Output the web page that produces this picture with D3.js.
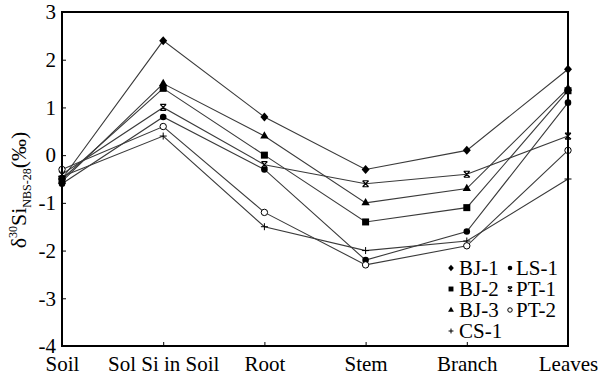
<!DOCTYPE html>
<html>
<head>
<meta charset="utf-8">
<script src="https://cdn.jsdelivr.net/npm/d3@7"></script>
<style>
  html, body { margin: 0; padding: 0; background: #fff; }
</style>
</head>
<body>
<svg id="chart" width="601" height="380"></svg>
<script>
// Sampling positions along the soil–plant pathway
const categories = ["Soil", "Sol Si in Soil", "Root", "Stem", "Branch", "Leaves"];
const yTicks = [-4, -3, -2, -1, 0, 1, 2, 3];

// δ30Si values (‰) per sample site
const seriesNames = ["BJ-1", "BJ-2", "BJ-3", "CS-1", "LS-1", "PT-1", "PT-2"];
const bj1 = [-0.5, 2.4, 0.8, -0.3, 0.1, 1.8];
const bj2 = [-0.5, 1.4, 0.0, -1.4, -1.1, 1.35];
const bj3 = [-0.55, 1.5, 0.4, -1.0, -0.7, 1.4];
const cs1 = [-0.45, 0.4, -1.5, -2.0, -1.8, -0.5];
const ls1 = [-0.6, 0.8, -0.3, -2.2, -1.6, 1.1];
const pt1 = [-0.4, 1.0, -0.2, -0.6, -0.4, 0.4];
const pt2 = [-0.3, 0.6, -1.2, -2.3, -1.9, 0.1];
const seriesMarkers = ["diamond", "square", "triangle", "plus", "dot", "cross", "ring"];

const seriesValues = [bj1, bj2, bj3, cs1, ls1, pt1, pt2];
const series = seriesNames.map((name, i) => ({ name, marker: seriesMarkers[i], values: seriesValues[i] }));

const FONT = "Liberation Serif";
const svg = d3.select("#chart");
const m = { left: 62, right: 33, top: 12, bottom: 34 };
const W = 601, H = 380;
const x = d3.scalePoint().domain(categories).range([m.left, W - m.right]).padding(0);
const y = d3.scaleLinear().domain([-4, 3]).range([H - m.bottom, m.top]);

const g = svg.append("g");

// Connecting lines
const line = d3.line().x((d, i) => x(categories[i])).y(d => y(d));
g.selectAll("path.series").data(series).join("path")
  .attr("class", "series")
  .attr("d", d => line(d.values))
  .attr("fill", "none")
  .attr("stroke", "#3a3a3a")
  .attr("stroke-width", 1.1);

// Marker shapes
function drawMarker(sel, type, s) {
  switch (type) {
    case "diamond":
      sel.append("path").attr("d", `M0,${-4.5 * s}L${4 * s},0L0,${4.5 * s}L${-4 * s},0Z`).attr("fill", "#000"); break;
    case "square":
      sel.append("rect").attr("x", -3.5 * s).attr("y", -3.5 * s).attr("width", 7 * s).attr("height", 7 * s).attr("fill", "#000"); break;
    case "triangle":
      sel.append("path").attr("d", d3.symbol(d3.symbolTriangle, 30 * s * s)()).attr("fill", "#000"); break;
    case "plus":
      sel.append("path").attr("d", `M${-3.5 * s},0H${3.5 * s}M0,${-3.5 * s}V${3.5 * s}`).attr("stroke", "#000").attr("stroke-width", 1); break;
    case "dot":
      sel.append("circle").attr("r", 3.3 * s).attr("fill", "#000"); break;
    case "cross":
      sel.append("path").attr("d", `M${-3 * s},${-3 * s}L${3 * s},${3 * s}M${3 * s},${-3 * s}L${-3 * s},${3 * s}M${-3 * s},${-3 * s}H${3 * s}M${-3 * s},${3 * s}H${3 * s}`)
        .attr("stroke", "#000").attr("stroke-width", 1.2).attr("fill", "none"); break;
    case "ring":
      sel.append("circle").attr("r", 3.2 * s).attr("fill", "#fff").attr("stroke", "#000").attr("stroke-width", 1); break;
  }
}

series.forEach(sr => {
  sr.values.forEach((v, i) => {
    const mk = g.append("g").attr("transform", `translate(${x(categories[i])},${y(v)})`);
    drawMarker(mk, sr.marker, 1);
  });
});

// Frame
g.append("rect")
  .attr("x", m.left).attr("y", m.top)
  .attr("width", W - m.right - m.left).attr("height", H - m.bottom - m.top)
  .attr("fill", "none").attr("stroke", "#000").attr("stroke-width", 2);

// Axes with inward ticks
const xAxis = g.append("g").attr("transform", `translate(0,${H - m.bottom})`)
  .call(d3.axisBottom(x).tickSize(-4).tickPadding(10));
const yAxis = g.append("g").attr("transform", `translate(${m.left},0)`)
  .call(d3.axisLeft(y).tickValues(yTicks).tickSize(-4).tickPadding(6).tickFormat(d => String(d)));
[xAxis, yAxis].forEach(a => {
  a.attr("font-family", FONT).attr("font-size", 21);
  a.select(".domain").remove();
  a.selectAll(".tick line").attr("stroke", "#000");
  a.selectAll(".tick text").style("font-family", FONT).style("font-size", "21px").attr("fill", "#000");
});

// Y axis title: δ30Si NBS-28 (‰)
const title = svg.append("text")
  .attr("transform", `translate(26,${(m.top + H - m.bottom) / 2 + 11}) rotate(-90)`)
  .attr("text-anchor", "middle")
  .style("font-family", FONT)
  .style("font-size", "22px");
title.append("tspan").text("δ");
title.append("tspan").style("font-size", "12px").attr("dy", -9).text("30");
title.append("tspan").attr("dy", 9).text("Si");
title.append("tspan").style("font-size", "12px").attr("dy", 5).text("NBS-28");
title.append("tspan").attr("dy", -5).text("(‰)");

// Legend
const legendItems = [
  { name: "BJ-1", col: 0, row: 0 }, { name: "LS-1", col: 1, row: 0 },
  { name: "BJ-2", col: 0, row: 1 }, { name: "PT-1", col: 1, row: 1 },
  { name: "BJ-3", col: 0, row: 2 }, { name: "PT-2", col: 1, row: 2 },
  { name: "CS-1", col: 0, row: 3 }
];
const colX = [451, 510], textDx = [8, 6];
const lg = svg.append("g").attr("transform", "translate(0,268)");
legendItems.forEach(it => {
  const sr = series.find(s => s.name === it.name);
  const item = lg.append("g").attr("transform", `translate(${colX[it.col]},${it.row * 21})`);
  drawMarker(item, sr.marker, 0.7);
  item.append("text").attr("x", textDx[it.col]).attr("y", 7)
    .style("font-family", FONT).style("font-size", "21px").text(it.name);
});
</script>
</body>
</html>
